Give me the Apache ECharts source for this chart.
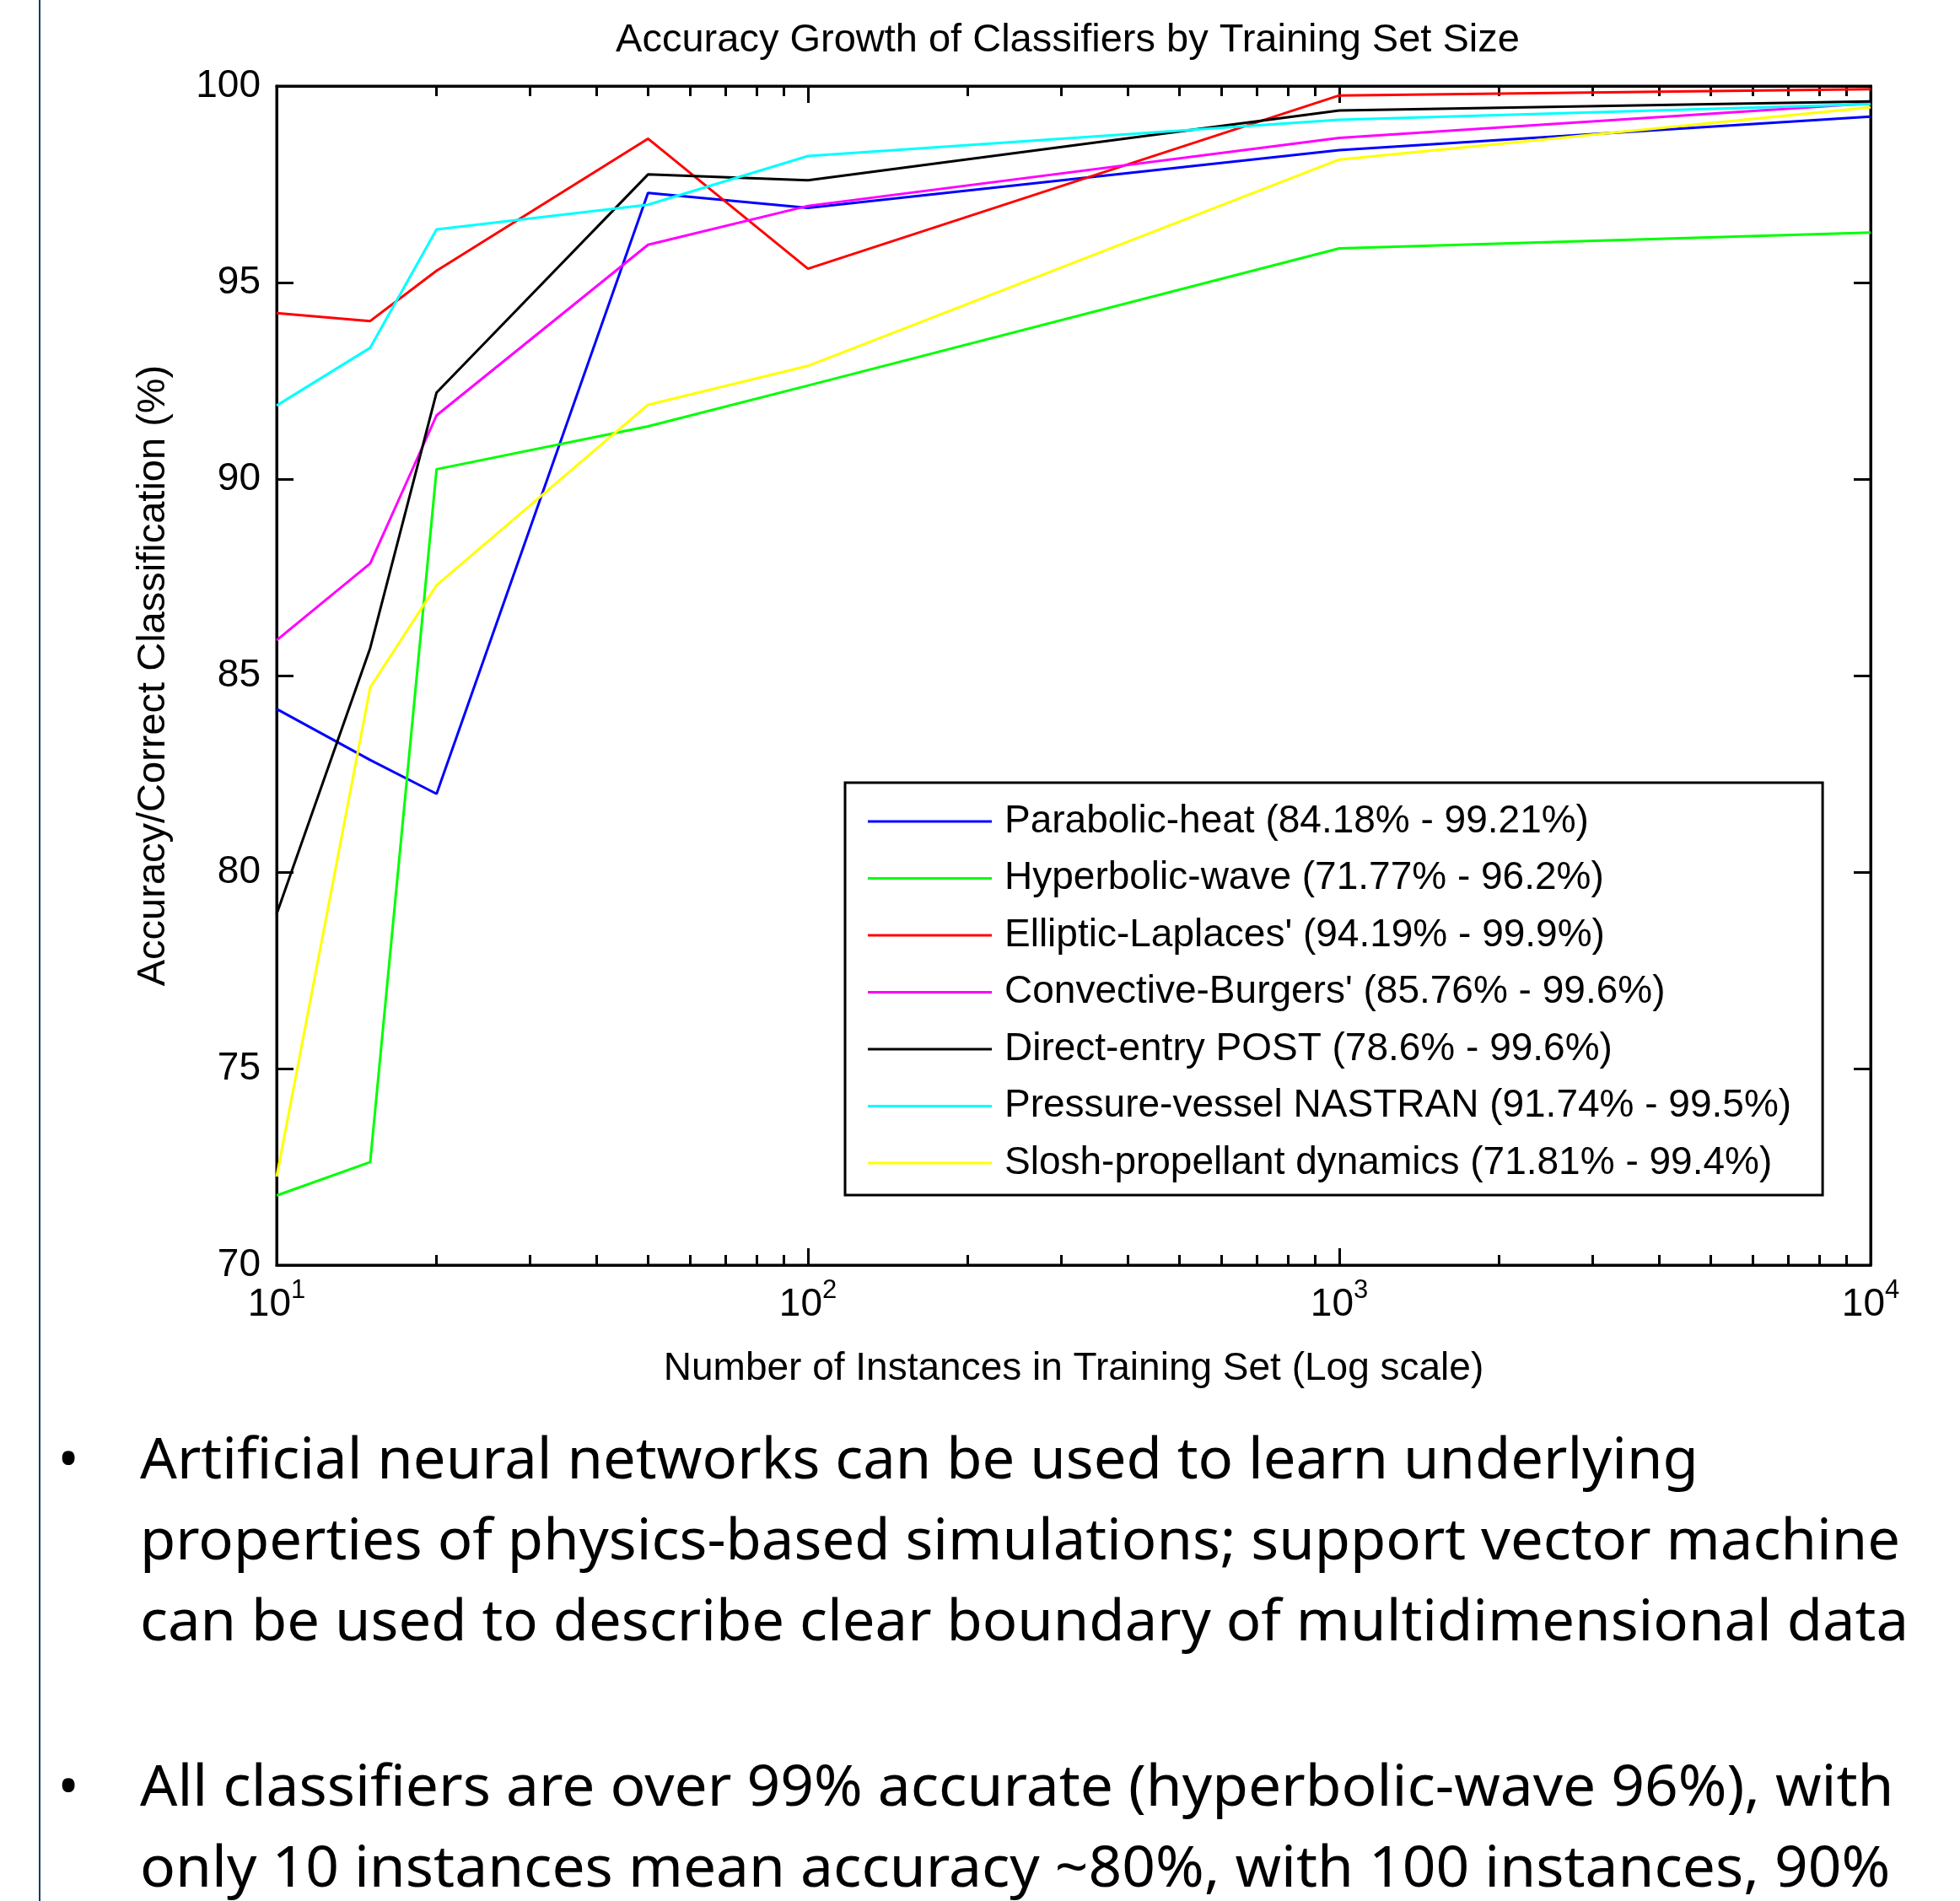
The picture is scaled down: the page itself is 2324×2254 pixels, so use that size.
<!DOCTYPE html>
<html>
<head>
<meta charset="utf-8">
<script src="https://cdn.jsdelivr.net/npm/echarts@6/dist/echarts.min.js"></script>
<style>
  html, body { margin: 0; padding: 0; background: #fff; }
  #chart { width: 2324px; height: 2254px; }
</style>
</head>
<body>
<div id="chart"></div>
<script>
// training set sizes (log axis)
const trainSizes = [10, 15, 20, 50, 100, 1000, 10000];

// accuracy (%) per classifier
const parabolicHeat     = [84.15, 82.85, 81.99, 97.28, 96.90, 98.37, 99.22];
const hyperbolicWave    = [71.77, 72.62, 90.25, 91.34, 92.38, 95.87, 96.27];
const ellipticLaplaces  = [94.22, 94.02, 95.30, 98.66, 95.35, 99.76, 99.92];
const convectiveBurgers = [85.90, 87.85, 91.62, 95.96, 96.95, 98.68, 99.56];
const directEntryPost   = [78.93, 85.70, 92.20, 97.75, 97.60, 99.38, 99.61];
const pressureVessel    = [91.87, 93.34, 96.35, 96.98, 98.22, 99.14, 99.54];
const sloshPropellant   = [72.25, 84.70, 87.30, 91.89, 92.88, 98.13, 99.46];

const seriesNames = [
  'Parabolic-heat (84.18% - 99.21%)',
  'Hyperbolic-wave (71.77% - 96.2%)',
  "Elliptic-Laplaces' (94.19% - 99.9%)",
  "Convective-Burgers' (85.76% - 99.6%)",
  'Direct-entry POST (78.6% - 99.6%)',
  'Pressure-vessel NASTRAN (91.74% - 99.5%)',
  'Slosh-propellant dynamics (71.81% - 99.4%)'
];
const seriesValues = [parabolicHeat, hyperbolicWave, ellipticLaplaces, convectiveBurgers,
  directEntryPost, pressureVessel, sloshPropellant];
const seriesColors = ['#0000ff', '#00ff00', '#ff0000', '#ff00ff', '#000000', '#00ffff', '#ffff00'];

// axis ticks
const yTicks = [70, 75, 80, 85, 90, 95, 100];
const xMajorTicks = [10, 100, 1000, 10000];
const xMinorTicks = [20, 30, 40, 50, 60, 70, 80, 90, 200, 300, 400, 500, 600, 700, 800, 900,
  2000, 3000, 4000, 5000, 6000, 7000, 8000, 9000];

// slide text under the chart
const bulletLines = [
  ['Artificial neural networks can be used to learn underlying',
   'properties of physics-based simulations; support vector machine',
   'can be used to describe clear boundary of multidimensional data'],
  ['All classifiers are over 99% accurate (hyperbolic-wave 96%), with',
   'only 10 instances mean accuracy ~80%, with 100 instances, 90%']
];

const FONT = "'Liberation Sans', Arial, Helvetica, sans-serif";
const SLIDE_FONT = "'Noto Sans', 'Open Sans', sans-serif";

var chart = echarts.init(document.getElementById('chart'), null, { renderer: 'canvas' });

// squeeze the slide text a little, like the narrow original face
const slideSize = 67;
const ctx = document.createElement('canvas').getContext('2d');
ctx.font = slideSize + 'px ' + SLIDE_FONT;
const squeeze = 2097 / ctx.measureText(bulletLines[0][2]).width;

const graphics = [{
  type: 'line',
  shape: { x1: 47, y1: 0, x2: 47, y2: 2254 },
  style: { stroke: '#1a3a6b', lineWidth: 2 },
  silent: true
}];
const blockTops = [1754, 2142];
bulletLines.forEach(function (lines, b) {
  graphics.push({
    type: 'text', x: 81, y: blockTops[b] - 20,
    style: { text: '\u2022', fontSize: slideSize, fontFamily: SLIDE_FONT, fill: '#000',
      align: 'center', verticalAlign: 'middle' }
  });
  lines.forEach(function (line, i) {
    graphics.push({
      type: 'text', x: 166, y: blockTops[b] + i * 96 - 20, scaleX: squeeze * (b === 1 ? 1.01 : 1),
      style: { text: line, fontSize: slideSize, fontFamily: SLIDE_FONT, fill: '#000',
        align: 'left', verticalAlign: 'middle' }
    });
  });
});

function logAxis(pos, ticks, len, showLine, showLabel) {
  return {
    type: 'log', logBase: 10, min: 10, max: 10000, position: pos, gridIndex: 0,
    splitNumber: 3,
    axisLine: { show: showLine, lineStyle: { color: '#000', width: 3 } },
    axisTick: { show: true, inside: true, length: len, customValues: ticks,
      lineStyle: { color: '#000', width: 3 } },
    axisLabel: {
      show: showLabel, margin: 15, customValues: xMajorTicks,
      formatter: function (v) { return '{b|10}{s|' + Math.round(Math.log10(v)) + '}'; },
      rich: {
        b: { fontSize: 46, fontFamily: FONT, color: '#000', lineHeight: 46, padding: [18, 0, 0, 0] },
        s: { fontSize: 31, fontFamily: FONT, color: '#000', lineHeight: 31, verticalAlign: 'top' }
      }
    },
    splitLine: { show: false },
    minorTick: { show: false }
  };
}

var option = {
  animation: false,
  backgroundColor: '#fff',
  textStyle: { fontFamily: FONT },
  title: {
    text: 'Accuracy Growth of Classifiers by Training Set Size',
    left: 1266, top: 25, padding: 0, textAlign: 'center',
    textStyle: { fontSize: 47, fontWeight: 'normal', color: '#000', fontFamily: FONT }
  },
  grid: {
    left: 328, right: 106, top: 102, bottom: 754,
    outerBoundsMode: 'none',
    show: true, borderColor: '#000', borderWidth: 3, backgroundColor: '#fff'
  },
  legend: {
    orient: 'vertical', left: 1002, top: 928,
    data: seriesNames,
    selectedMode: false,
    icon: 'rect', itemWidth: 147, itemHeight: 3, itemGap: 19.5,
    padding: [22, 37, 14, 27],
    borderColor: '#000', borderWidth: 3, backgroundColor: '#fff',
    textStyle: { fontSize: 46, lineHeight: 48, color: '#000', fontFamily: FONT, padding: [0, 0, 0, 10] }
  },
  xAxis: [
    Object.assign(logAxis('bottom', xMajorTicks, 20, true, true), {
      name: 'Number of Instances in Training Set (Log scale)',
      nameLocation: 'middle', nameGap: 100,
      nameTextStyle: { fontSize: 46, color: '#000', fontFamily: FONT }
    }),
    logAxis('bottom', xMinorTicks, 12, false, false),
    logAxis('top', xMajorTicks, 20, true, false),
    logAxis('top', xMinorTicks, 12, false, false)
  ],
  yAxis: [{
    type: 'value', min: 70, max: 100, interval: 5, position: 'left',
    name: 'Accuracy/Correct Classification (%)',
    nameLocation: 'middle', nameGap: 122,
    nameTextStyle: { fontSize: 47, color: '#000', fontFamily: FONT },
    axisLine: { show: true, lineStyle: { color: '#000', width: 3 } },
    axisTick: { show: true, inside: true, length: 20, lineStyle: { color: '#000', width: 3 } },
    axisLabel: { margin: 19, fontSize: 46, color: '#000', fontFamily: FONT,
      customValues: yTicks },
    splitLine: { show: false }
  }, {
    type: 'value', min: 70, max: 100, interval: 5, position: 'right',
    axisLine: { show: true, lineStyle: { color: '#000', width: 3 } },
    axisTick: { show: true, inside: true, length: 20, lineStyle: { color: '#000', width: 3 } },
    axisLabel: { show: false },
    splitLine: { show: false }
  }],
  series: seriesNames.map(function (name, k) {
    return {
      name: name,
      type: 'line',
      xAxisIndex: 0, yAxisIndex: 0,
      data: trainSizes.map(function (x, i) { return [x, seriesValues[k][i]]; }),
      symbol: 'none',
      color: seriesColors[k],
      lineStyle: { color: seriesColors[k], width: 3 },
      z: 3
    };
  }),
  graphic: graphics
};

chart.setOption(option);
</script>
</body>
</html>
